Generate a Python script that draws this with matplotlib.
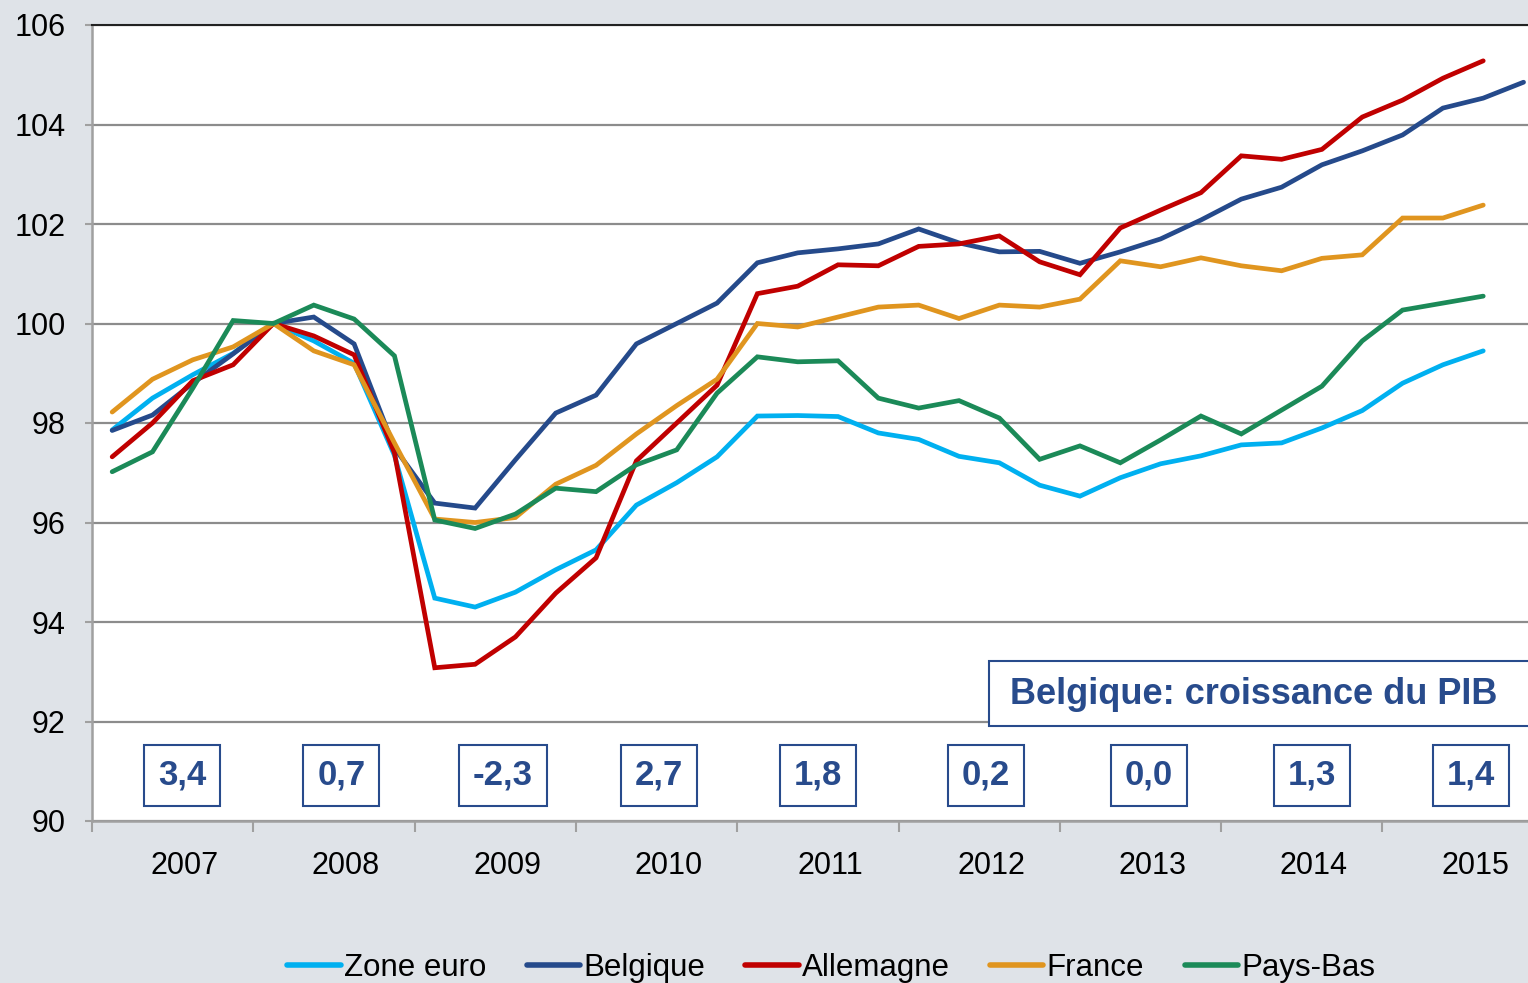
import matplotlib
matplotlib.use("Agg")
import matplotlib.pyplot as plt
from matplotlib.patches import Rectangle
import numpy as np

plt.rcParams['font.family'] = ['Liberation Sans Narrow', 'Liberation Sans', 'DejaVu Sans']

years = ['2007', '2008', '2009', '2010', '2011', '2012', '2013', '2014', '2015']
growth = ['3,4', '0,7', '-2,3', '2,7', '1,8', '0,2', '0,0', '1,3', '1,4']
series_names = ['Zone euro', 'Belgique', 'Allemagne', 'France', 'Pays-Bas']
colors = ['#00B0F0', '#254A8B', '#C00000', '#E0951F', '#1B8A58']

zone_euro = [97.86, 98.5, 98.97, 99.4, 100.0, 99.65, 99.2, 97.35, 94.48, 94.3, 94.6, 95.05,
             95.45, 96.35, 96.8, 97.32, 98.14, 98.15, 98.13, 97.8, 97.67, 97.33, 97.2, 96.75,
             96.53, 96.9, 97.18, 97.34, 97.56, 97.6, 97.9, 98.25, 98.8, 99.17, 99.45]
belgique = [97.85, 98.16, 98.8, 99.39, 100.0, 100.13, 99.59, 97.5, 96.39, 96.29, 97.26, 98.2,
            98.56, 99.59, 100.0, 100.41, 101.22, 101.42, 101.5, 101.6, 101.9, 101.62, 101.44, 101.45,
            101.21, 101.44, 101.7, 102.08, 102.5, 102.74, 103.19, 103.47, 103.79, 104.33, 104.53, 104.85]
allemagne = [97.32, 98.0, 98.85, 99.17, 100.0, 99.75, 99.37, 97.4, 93.08, 93.15, 93.7, 94.58,
             95.29, 97.24, 98.0, 98.76, 100.6, 100.75, 101.18, 101.16, 101.55, 101.6, 101.76, 101.24,
             100.98, 101.92, 102.28, 102.63, 103.37, 103.3, 103.5, 104.15, 104.49, 104.93, 105.28]
france = [98.22, 98.88, 99.27, 99.53, 100.0, 99.45, 99.17, 97.6, 96.07, 96.0, 96.1, 96.77,
          97.15, 97.78, 98.35, 98.88, 100.0, 99.93, 100.13, 100.33, 100.37, 100.1, 100.37, 100.33,
          100.49, 101.26, 101.14, 101.32, 101.16, 101.06, 101.31, 101.38, 102.12, 102.12, 102.38]
pays_bas = [97.02, 97.42, 98.7, 100.06, 100.0, 100.37, 100.09, 99.35, 96.05, 95.88, 96.17, 96.69,
            96.62, 97.16, 97.46, 98.6, 99.33, 99.23, 99.25, 98.5, 98.3, 98.45, 98.1, 97.27,
            97.54, 97.2, 97.66, 98.14, 97.78, 98.26, 98.74, 99.65, 100.27, 100.41, 100.55]

series = [zone_euro, belgique, allemagne, france, pays_bas]

W, H = 1528, 983
fig = plt.figure(figsize=(W / 100, H / 100), dpi=100)
fig.patch.set_facecolor('#DFE3E8')
ax = fig.add_axes([92 / W, 1 - 821 / H, (W - 92) / W, (821 - 25) / H])
ax.set_facecolor('white')

for name, vals, c in zip(series_names, series, colors):
    ax.plot(np.arange(len(vals)), vals, color=c, lw=3.4, label=name,
            solid_joinstyle='miter', solid_capstyle='round', zorder=3)

ax.set_yticks(np.arange(90, 107, 2))
ax.set_yticklabels([str(v) for v in range(90, 107, 2)], fontsize=22)
ax.yaxis.grid(True, color='#8C8C8C', lw=1.6, zorder=1)
ax.tick_params(axis='y', length=5, color='#A0A0A0', width=1.5, pad=14)

ax.set_xticks([4 * k - 0.5 for k in range(len(years) + 1)])
ax.set_xticklabels([])
ax.tick_params(axis='x', length=8, color='#A0A0A0', width=1.5, direction='out')
ax.set_ylim(90, 106)
ax.set_xlim(-0.5, (W - 112) / 40.33)

for k, y in enumerate(years):
    ax.text(4 * k + 1.8, 89.1, y, ha='center', va='center', fontsize=22)

for side in ['left', 'bottom']:
    ax.spines[side].set_color('#A0A0A0')
    ax.spines[side].set_linewidth(1.8)
ax.spines['top'].set_color('#222222')
ax.spines['top'].set_linewidth(1.5)
ax.spines['right'].set_visible(False)

box_color = '#284B8C'
box_x = [1.74, 5.68, 9.69, 13.56, 17.5, 21.67, 25.71, 29.75, 33.7]
for bx, g in zip(box_x, growth):
    ax.text(bx, 90.92, g, ha='center', va='center', fontsize=25,
            fontweight='bold', color=box_color,
            bbox=dict(boxstyle='square,pad=0.4', fc='white', ec=box_color, lw=1.5), zorder=4)

rect = Rectangle((989, H - 726), 700, 65, transform=None, fc='white', ec=box_color,
                 lw=1.5, zorder=5, clip_on=False)
ax.add_artist(rect)
ax.text(1010, H - 694, 'Belgique: croissance du PIB', transform=None,
        ha='left', va='center', fontsize=26, fontweight='bold', color=box_color, zorder=6)

leg = fig.legend(loc='center', bbox_to_anchor=(0.544, 1 - 968 / H), ncol=5, frameon=False,
                 fontsize=22.5, handlelength=1.7, handletextpad=0.1, columnspacing=1.3)
for line in leg.get_lines():
    line.set_linewidth(4)

fig.savefig('out.png', dpi=100, facecolor=fig.get_facecolor())
